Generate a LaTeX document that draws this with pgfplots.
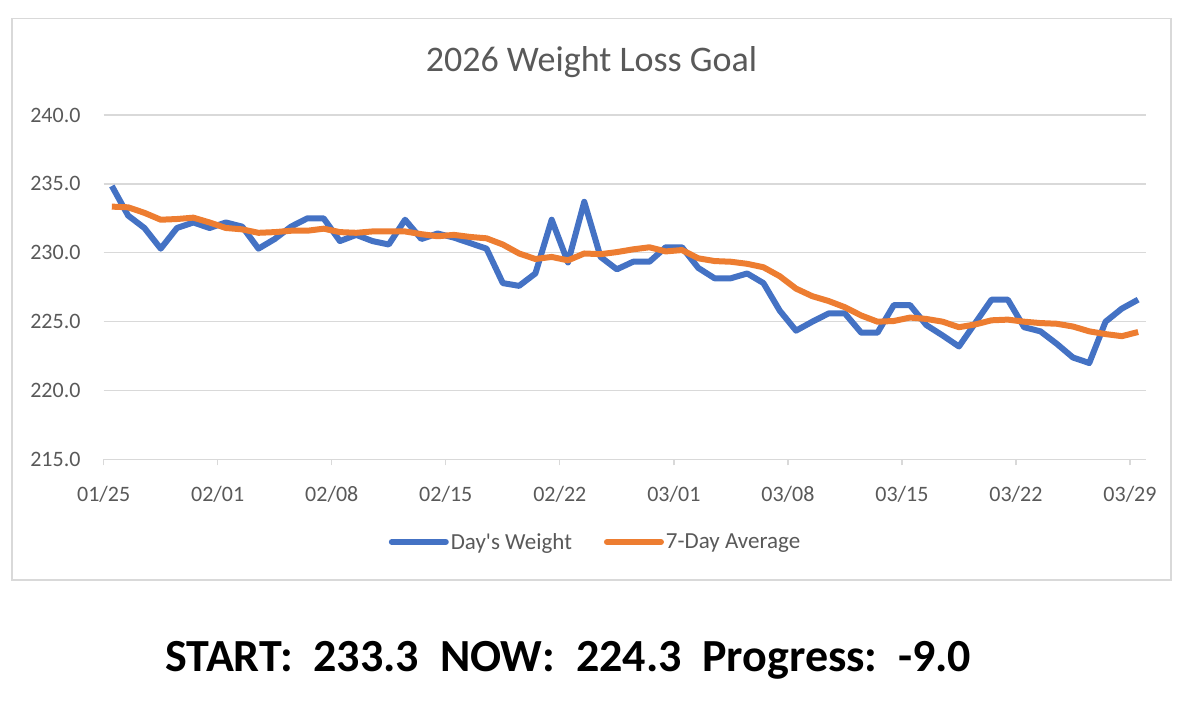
\documentclass[border=0pt]{standalone}
\usepackage{fontspec}
\setmainfont{Carlito}
\usepackage{pgfplots}
\usepackage{pgfplotstable}
\pgfplotsset{compat=1.18}

\definecolor{dayblue}{HTML}{4472C4}
\definecolor{avgorange}{HTML}{ED7D31}
\definecolor{gridgray}{HTML}{D9D9D9}
\definecolor{txtgray}{HTML}{595959}

% day index (0 = 01/25), day's weight, 7-day average
\pgfplotstableread{
d    w       avg
0.5  234.85  233.35
1.5  232.7   233.3
2.5  231.8   232.9
3.5  230.3   232.4
4.5  231.8   232.45
5.5  232.2   232.55
6.5  231.8   232.2
7.5  232.2   231.8
8.5  231.9   231.7
9.5  230.3   231.45
10.5 231.0   231.5
11.5 231.9   231.6
12.5 232.5   231.6
13.5 232.5   231.75
14.5 230.85  231.5
15.5 231.3   231.45
16.5 230.85  231.55
17.5 230.6   231.55
18.5 232.4   231.55
19.5 231.0   231.35
20.5 231.4   231.2
21.5 231.1   231.3
22.5 230.7   231.15
23.5 230.3   231.05
24.5 227.8   230.6
25.5 227.6   229.95
26.5 228.5   229.55
27.5 232.4   229.7
28.5 229.3   229.45
29.5 233.7   229.95
30.5 229.7   229.9
31.5 228.8   230.05
32.5 229.35  230.25
33.5 229.35  230.4
34.5 230.4   230.1
35.5 230.4   230.2
36.5 228.9   229.6
37.5 228.15  229.4
38.5 228.15  229.35
39.5 228.5   229.2
40.5 227.8   228.95
41.5 225.8   228.3
42.5 224.35  227.4
43.5 225.0   226.85
44.5 225.6   226.5
45.5 225.6   226.05
46.5 224.2   225.45
47.5 224.2   225.0
48.5 226.2   225.05
49.5 226.2   225.3
50.5 224.75  225.2
51.5 224.0   225.0
52.5 223.2   224.6
53.5 224.9   224.8
54.5 226.6   225.1
55.5 226.6   225.15
56.5 224.6   225.0
57.5 224.3   224.9
58.5 223.4   224.85
59.5 222.4   224.65
60.5 222.0   224.3
61.5 225.0   224.1
62.5 225.95  223.95
63.5 226.6   224.25
}\weighttable

\begin{document}
\begin{tikzpicture}[x=1pt,y=1pt]
  \path (0,0) rectangle (1195,708);
  \draw[gridgray, line width=1.3pt] (12,128) rectangle (1171,689.3);
  \node[anchor=base, text=txtgray, font=\fontsize{36}{40}\selectfont] at (591.5,636) {2026 Weight Loss Goal};

  \begin{axis}[
      at={(103.7pt,248.5pt)}, anchor=south west,
      scale only axis,
      width=1042.6pt, height=344.5pt,
      xmin=0, xmax=64,
      ymin=215, ymax=240,
      xtick={0,7,14,21,28,35,42,49,56,63},
      xticklabels={01/25,02/01,02/08,02/15,02/22,03/01,03/08,03/15,03/22,03/29},
      ytick={215,220,225,230,235,240},
      yticklabels={215.0,220.0,225.0,230.0,235.0,240.0},
      axis x line*=bottom, axis y line*=left,
      x axis line style={gridgray, line width=1.3pt, -},
      y axis line style={draw=none},
      ymajorgrids,
      major grid style={gridgray, line width=1.3pt},
      tick align=outside,
      major tick length=6pt,
      xtick style={gridgray, line width=1.3pt},
      ytick style={draw=none},
      ticklabel style={text=txtgray, font=\fontsize{22}{26}\selectfont, inner sep=0pt},
      x tick label style={yshift=-21pt},
      y tick label style={xshift=-17pt},
      legend columns=2,
      legend style={at={(0.4717,-0.2395)}, anchor=center, draw=none, fill=none,
        font=\fontsize{23}{26}\selectfont, text=txtgray,
        /tikz/every even column/.append style={column sep=30pt},
        nodes={inner sep=2pt}},
      legend image code/.code={\draw[#1, line cap=round] (0pt,0pt) -- (54pt,0pt);},
      clip=false,
    ]
    \addplot[dayblue, line width=6pt, line join=round] table[x=d, y=w] {\weighttable};
    \addlegendentry{Day\textquotesingle s Weight}
    \addplot[avgorange, line width=6pt, line join=round] table[x=d, y=avg] {\weighttable};
    \addlegendentry{7-Day Average}
  \end{axis}

  \node[anchor=base west, font=\fontsize{46}{50}\selectfont\bfseries] at (162,36)
    {START:\ \ 233.3\ \ NOW:\ \ 224.3\ \ Progress:\ \ -9.0};
\end{tikzpicture}
\end{document}
